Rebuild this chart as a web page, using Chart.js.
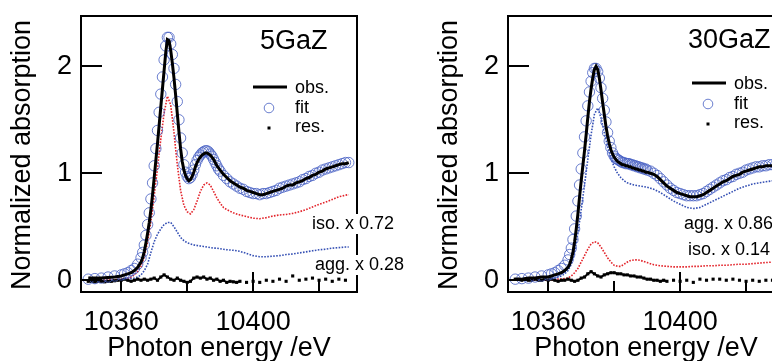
<!DOCTYPE html>
<html>
<head>
<meta charset="utf-8">
<script src="https://cdn.jsdelivr.net/npm/chart.js@4.4.1/dist/chart.umd.min.js"></script>
<style>
  html, body { margin: 0; padding: 0; background: #fff; overflow: hidden; }
  #wrap { position: relative; width: 772px; height: 361px; overflow: hidden; }
  .panel { position: absolute; top: 0; width: 427px; height: 361px; }
</style>
</head>
<body>
<div id="wrap">
  <div class="panel" style="left:0"><canvas id="c5" width="427" height="361"></canvas></div>
  <div class="panel" style="left:427px"><canvas id="c30" width="427" height="361"></canvas></div>
</div>
<script>
// photon energy grid of the measured spectrum (eV)
const gridE = [10350, 10352, 10354, 10356, 10358, 10360, 10361, 10362, 10363, 10364, 10365, 10366,
  10366.5, 10367, 10367.5, 10368, 10368.5, 10369, 10369.5, 10370, 10370.5, 10371,
  10371.5, 10372, 10372.5, 10373, 10373.5, 10374, 10374.5, 10375, 10375.5, 10376,
  10376.5, 10377, 10377.5, 10378, 10378.5, 10379, 10379.5, 10380, 10380.5, 10381,
  10381.5, 10382, 10382.5, 10383, 10383.5, 10384, 10384.5, 10385, 10385.5, 10386,
  10386.5, 10387, 10387.5, 10388, 10388.5, 10389, 10389.5, 10390,
  10391, 10392, 10393, 10394, 10395, 10396, 10397, 10398, 10399, 10400,
  10401, 10402, 10403, 10404, 10405, 10406, 10407, 10408, 10409, 10410,
  10411, 10412, 10413, 10414, 10415, 10416, 10417, 10418, 10419, 10420,
  10421, 10422, 10423, 10424, 10425, 10426, 10427, 10428, 10429];

// energies of the residual points
const resE = [10350, 10351, 10352, 10353, 10354, 10355, 10356, 10357, 10358, 10359,
  10360, 10361, 10362, 10363, 10364, 10365, 10366, 10367, 10368, 10369,
  10370, 10371, 10372, 10373, 10374, 10375, 10376, 10377, 10378, 10379,
  10380, 10381, 10382, 10383, 10384, 10385, 10386, 10387, 10388, 10389,
  10390, 10391, 10392, 10393, 10394, 10395, 10396,
  10398, 10400, 10402, 10404, 10406, 10408, 10410, 10412, 10414, 10416, 10418, 10420, 10422, 10424, 10426, 10428];

// energies of the iso / agg component curves
const compE = [10350, 10354, 10358, 10360,
  10362, 10363, 10364, 10365, 10366, 10367, 10368, 10369, 10370, 10371,
  10372, 10373, 10374, 10375, 10376, 10377, 10378, 10379, 10380, 10381,
  10382, 10383, 10384, 10385, 10386, 10387, 10388, 10389, 10390, 10391, 10392,
  10394, 10396, 10398, 10400, 10402, 10404, 10406, 10408, 10410, 10412, 10414, 10416, 10418,
  10420, 10422, 10424, 10426, 10428, 10429];

// ---- 5GaZ ----
const obs5 = [0.02, 0.02, 0.02, 0.025, 0.03, 0.04, 0.05, 0.06, 0.07, 0.09, 0.12, 0.17,
  0.21, 0.27, 0.35, 0.44, 0.54, 0.66, 0.80, 0.96, 1.12, 1.28,
  1.45, 1.62, 1.79, 1.96, 2.13, 2.25, 2.24, 2.15, 2.03, 1.89,
  1.73, 1.56, 1.39, 1.23, 1.11, 1.03, 0.98, 0.95, 0.93, 0.94,
  0.97, 1.01, 1.06, 1.10, 1.13, 1.15, 1.17, 1.18, 1.19, 1.19,
  1.18, 1.17, 1.15, 1.13, 1.10, 1.07, 1.05, 1.03,
  0.99, 0.96, 0.93, 0.91, 0.89, 0.87, 0.86, 0.84, 0.83, 0.82,
  0.81, 0.80, 0.80, 0.81, 0.82, 0.83, 0.84, 0.85, 0.86, 0.88,
  0.89, 0.89, 0.91, 0.92, 0.93, 0.95, 0.96, 0.98, 0.99, 1.01,
  1.02, 1.04, 1.05, 1.06, 1.07, 1.08, 1.09, 1.09, 1.10];
const fit5 = [0.01, 0.015, 0.02, 0.03, 0.04, 0.05, 0.06, 0.07, 0.09, 0.11, 0.15, 0.21,
  0.26, 0.33, 0.42, 0.52, 0.63, 0.76, 0.91, 1.07, 1.23, 1.40,
  1.57, 1.74, 1.90, 2.06, 2.19, 2.27, 2.27, 2.21, 2.11, 1.98,
  1.83, 1.67, 1.50, 1.33, 1.19, 1.08, 1.01, 0.97, 0.95, 0.96,
  0.99, 1.03, 1.08, 1.12, 1.15, 1.17, 1.19, 1.20, 1.21, 1.21,
  1.20, 1.18, 1.16, 1.13, 1.10, 1.07, 1.04, 1.02,
  0.98, 0.95, 0.92, 0.90, 0.88, 0.86, 0.85, 0.83, 0.82, 0.81,
  0.81, 0.80, 0.81, 0.81, 0.82, 0.83, 0.84, 0.86, 0.87, 0.88,
  0.89, 0.90, 0.91, 0.92, 0.94, 0.95, 0.97, 0.98, 1.00, 1.01,
  1.03, 1.04, 1.05, 1.06, 1.07, 1.08, 1.09, 1.10, 1.10];
const res5 = [-0.01, -0.01, -0.015, -0.01, -0.01, -0.015, -0.01, -0.01, -0.005, 0.0,
  0.0, 0.01, 0.0, -0.01, 0.0, 0.01, 0.0, 0.01, 0.0, 0.01,
  0.02, 0.0, 0.03, 0.05, 0.03, 0.01, 0.0, 0.02, 0.0, -0.01,
  -0.02, -0.01, 0.02, 0.03, 0.02, 0.03, 0.01, 0.02, 0.0, 0.01,
  -0.01, 0.0, -0.02, -0.01, -0.015, -0.02, -0.01,
  -0.02, -0.01, -0.02, 0.0, -0.01, 0.01, -0.01, 0.04, 0.0, 0.01, 0.02, 0.0, 0.01, -0.01, 0.01, 0.0];
const iso5 = [0, 0, 0.005, 0.01,
  0.02, 0.03, 0.05, 0.08, 0.13, 0.22, 0.36, 0.55, 0.79, 1.05,
  1.32, 1.56, 1.72, 1.64, 1.38, 1.08, 0.84, 0.70, 0.64, 0.62,
  0.66, 0.74, 0.83, 0.89, 0.91, 0.89, 0.83, 0.77, 0.72, 0.68, 0.66,
  0.63, 0.61, 0.595, 0.58, 0.575, 0.585, 0.60, 0.61, 0.615, 0.625, 0.64, 0.66, 0.685,
  0.71, 0.73, 0.755, 0.78, 0.795, 0.80];
const agg5 = [0, 0, 0, 0.005,
  0.01, 0.015, 0.02, 0.03, 0.05, 0.09, 0.15, 0.26, 0.36, 0.43,
  0.48, 0.52, 0.54, 0.54, 0.50, 0.45, 0.40, 0.37, 0.35, 0.34,
  0.33, 0.325, 0.32, 0.315, 0.31, 0.305, 0.30, 0.30, 0.295, 0.29, 0.285,
  0.28, 0.27, 0.25, 0.23, 0.22, 0.22, 0.225, 0.23, 0.24, 0.245, 0.255, 0.265, 0.275,
  0.285, 0.29, 0.30, 0.305, 0.31, 0.31];

// ---- 30GaZ ----
const obs30 = [0.01, 0.01, 0.02, 0.02, 0.03, 0.03, 0.04, 0.05, 0.06, 0.07, 0.09, 0.12,
  0.15, 0.20, 0.26, 0.36, 0.48, 0.62, 0.78, 0.93, 1.07, 1.21,
  1.36, 1.52, 1.67, 1.79, 1.89, 1.97, 2.00, 1.97, 1.89, 1.78,
  1.66, 1.55, 1.44, 1.35, 1.28, 1.22, 1.18, 1.15, 1.13, 1.11,
  1.10, 1.09, 1.08, 1.08, 1.07, 1.07, 1.06, 1.06, 1.05, 1.05,
  1.04, 1.04, 1.03, 1.03, 1.02, 1.02, 1.01, 1.01,
  1.00, 0.99, 0.97, 0.94, 0.91, 0.88, 0.86, 0.84, 0.82, 0.81,
  0.80, 0.79, 0.78, 0.78, 0.78, 0.79, 0.80, 0.82, 0.84, 0.86,
  0.88, 0.90, 0.92, 0.93, 0.95, 0.97, 0.98, 0.99, 1.01, 1.02,
  1.03, 1.04, 1.05, 1.06, 1.06, 1.07, 1.07, 1.07, 1.07];
const fit30 = [0.01, 0.015, 0.02, 0.03, 0.04, 0.05, 0.06, 0.07, 0.09, 0.11, 0.14, 0.19,
  0.24, 0.30, 0.38, 0.48, 0.60, 0.74, 0.89, 1.04, 1.19, 1.34,
  1.49, 1.63, 1.76, 1.86, 1.94, 1.98, 1.98, 1.95, 1.89, 1.80,
  1.70, 1.59, 1.48, 1.38, 1.30, 1.24, 1.19, 1.16, 1.14, 1.13,
  1.12, 1.11, 1.10, 1.10, 1.09, 1.09, 1.09, 1.08, 1.08, 1.07,
  1.07, 1.06, 1.06, 1.05, 1.05, 1.04, 1.04, 1.03,
  1.02, 1.00, 0.98, 0.95, 0.92, 0.89, 0.86, 0.84, 0.82, 0.81,
  0.80, 0.79, 0.79, 0.79, 0.79, 0.80, 0.81, 0.83, 0.85, 0.87,
  0.89, 0.91, 0.93, 0.94, 0.96, 0.97, 0.99, 1.00, 1.01, 1.03,
  1.04, 1.05, 1.06, 1.06, 1.07, 1.07, 1.08, 1.08, 1.08];
const res30 = [0.01, 0.01, 0.0, 0.01, 0.0, 0.0, 0.01, 0.0, 0.0, 0.01,
  0.0, 0.01, 0.0, -0.01, 0.0, 0.0, 0.01, 0.0, -0.01, 0.0,
  0.02, 0.03, 0.06, 0.08, 0.06, 0.04, 0.03, 0.05, 0.06, 0.07,
  0.07, 0.06, 0.06, 0.05, 0.05, 0.04, 0.04, 0.03, 0.03, 0.02,
  0.01, 0.01, 0.0, 0.0, -0.01, 0.0, -0.01,
  0.0, -0.01, 0.0, -0.02, 0.01, 0.0, 0.01, 0.01, 0.0, 0.01, 0.0, -0.01, 0.0, -0.01, 0.0, 0.0];
const agg30 = [0, 0, 0.005, 0.01,
  0.02, 0.03, 0.04, 0.06, 0.09, 0.15, 0.26, 0.44, 0.66, 0.89,
  1.13, 1.36, 1.55, 1.61, 1.52, 1.38, 1.25, 1.14, 1.06, 1.00,
  0.96, 0.93, 0.91, 0.90, 0.89, 0.885, 0.88, 0.875, 0.87, 0.86, 0.85,
  0.82, 0.78, 0.74, 0.71, 0.68, 0.67, 0.68, 0.71, 0.74, 0.77, 0.80, 0.83, 0.86,
  0.88, 0.90, 0.91, 0.92, 0.93, 0.93];
const iso30 = [0, 0, 0, 0,
  0.005, 0.01, 0.01, 0.015, 0.02, 0.04, 0.07, 0.11, 0.17, 0.23,
  0.29, 0.34, 0.36, 0.35, 0.31, 0.26, 0.21, 0.17, 0.14, 0.13,
  0.13, 0.15, 0.17, 0.185, 0.19, 0.19, 0.185, 0.175, 0.165, 0.155, 0.145,
  0.135, 0.13, 0.125, 0.125, 0.125, 0.13, 0.13, 0.135, 0.135, 0.14, 0.14, 0.145, 0.15,
  0.15, 0.155, 0.16, 0.165, 0.17, 0.17];

const xTicks = [10360, 10380, 10400, 10420];
const yTicks = [0, 1, 2];

const FONT = "'Liberation Sans', Arial, Helvetica, sans-serif";
const RED = '#e3242b';
const BLUE = '#3550b4';
const CIRCLE = 'rgba(70, 95, 195, 0.8)';

function pts(xs, ys) {
  return xs.map((x, i) => ({ x: x, y: ys[i] }));
}

// frame, inward ticks, axis titles, legend and component notes
const decorations = {
  id: 'decorations',
  afterDraw(chart, args, o) {
    const { ctx, chartArea: a, scales: { x, y } } = chart;
    ctx.save();
    ctx.strokeStyle = '#000';
    ctx.lineWidth = 2;
    ctx.strokeRect(a.left, a.top, a.right - a.left, a.bottom - a.top);

    ctx.beginPath();
    yTicks.forEach(v => {
      const py = Math.round(y.getPixelForValue(v));
      ctx.moveTo(a.left, py);
      ctx.lineTo(a.left + 21, py);
    });
    xTicks.forEach(v => {
      const px = Math.round(x.getPixelForValue(v));
      ctx.moveTo(px, a.bottom);
      ctx.lineTo(px, a.bottom - (v === 10400 ? 20 : 11));
    });
    ctx.stroke();

    ctx.fillStyle = '#000';
    ctx.font = '27px ' + FONT;
    ctx.textAlign = 'center';
    ctx.textBaseline = 'alphabetic';
    ctx.fillText('Photon energy /eV', (a.left + a.right) / 2, 356);
    ctx.save();
    ctx.translate(29.5, (a.top + a.bottom) / 2 + 1);
    ctx.rotate(-Math.PI / 2);
    ctx.fillText('Normalized absorption', 0, 0);
    ctx.restore();

    ctx.textAlign = 'left';
    ctx.fillText(o.name, o.nameX, o.nameY);

    // legend
    const lx = o.legendX, ly = o.legendY;
    ctx.lineWidth = 3;
    ctx.beginPath();
    ctx.moveTo(lx, ly);
    ctx.lineTo(lx + 34, ly);
    ctx.stroke();
    ctx.lineWidth = 1;
    ctx.strokeStyle = CIRCLE;
    ctx.beginPath();
    ctx.arc(lx + 16, ly + 21, 4.8, 0, Math.PI * 2);
    ctx.stroke();
    ctx.fillRect(lx + 14.5, ly + 39.5, 3, 3);
    ctx.font = '18px ' + FONT;
    ctx.fillText('obs.', lx + 42, ly + 6);
    ctx.fillText('fit', lx + 42, ly + 26);
    ctx.fillText('res.', lx + 42, ly + 45);

    // scale-factor notes, on white so they break the frame
    o.notes.forEach(n => {
      const w = ctx.measureText(n.text).width;
      ctx.fillStyle = '#fff';
      ctx.fillRect(n.x - 2, n.y - 15, w + 4, 20);
      ctx.fillStyle = '#000';
      ctx.fillText(n.text, n.x, n.y);
    });
    ctx.restore();
  }
};

function makeChart(id, d, deco) {
  return new Chart(document.getElementById(id), {
    type: 'line',
    data: {
      datasets: [
        { label: 'obs.', data: pts(gridE, d.obs), borderColor: '#000', borderWidth: 3, pointRadius: 0 },
        { label: 'fit', data: pts(gridE, d.fit), showLine: false, pointRadius: 5.2, pointBorderWidth: 1,
          pointBorderColor: CIRCLE, pointBackgroundColor: 'rgba(0,0,0,0)' },
        { label: 'res.', data: pts(resE, d.res), borderColor: '#000', borderWidth: 2,
          pointStyle: 'rect', pointBackgroundColor: '#000', pointBorderWidth: 0, pointRadius: 2.2,
          segment: { borderColor: c => (c.p0.parsed.x >= 10396 ? 'rgba(0,0,0,0)' : undefined) } },
        { label: 'iso', data: pts(compE, d.iso), borderColor: RED, borderWidth: 1.6, borderDash: [1.6, 1.4], pointRadius: 0 },
        { label: 'agg', data: pts(compE, d.agg), borderColor: BLUE, borderWidth: 1.6, borderDash: [1.6, 1.4], pointRadius: 0 }
      ]
    },
    options: {
      responsive: false,
      animation: false,
      devicePixelRatio: 1,
      layout: { padding: { left: 0, top: 16, right: 70, bottom: 0 } },
      plugins: { legend: { display: false }, tooltip: { enabled: false }, decorations: deco },
      scales: {
        x: {
          type: 'linear', min: 10347.8, max: 10431.5,
          grid: { display: false, drawTicks: false }, border: { display: false },
          afterBuildTicks: s => { s.ticks = xTicks.map(v => ({ value: v })); },
          afterFit: s => { s.height = 69; s.paddingLeft = 0; s.paddingRight = 0; },
          ticks: { color: '#000', padding: 14, maxRotation: 0, font: { family: FONT, size: 27 },
            callback: v => (v % 40 === 0 ? String(v) : '') }
        },
        y: {
          min: -0.11, max: 2.47,
          grid: { display: false, drawTicks: false }, border: { display: false },
          afterBuildTicks: s => { s.ticks = yTicks.map(v => ({ value: v })); },
          afterFit: s => { s.width = 81; s.paddingTop = 0; s.paddingBottom = 0; },
          ticks: { color: '#000', padding: 9, font: { family: FONT, size: 27 }, callback: v => String(v) }
        }
      }
    },
    plugins: [decorations]
  });
}

makeChart('c5', { obs: obs5, fit: fit5, res: res5, iso: iso5, agg: agg5 }, {
  name: '5GaZ', nameX: 260, nameY: 49, legendX: 253, legendY: 87,
  notes: [{ text: 'iso. x 0.72', x: 312, y: 229 }, { text: 'agg. x 0.28', x: 315, y: 270 }]
});
makeChart('c30', { obs: obs30, fit: fit30, res: res30, iso: iso30, agg: agg30 }, {
  name: '30GaZ', nameX: 261, nameY: 48, legendX: 265, legendY: 83,
  notes: [{ text: 'agg. x 0.86', x: 257, y: 229 }, { text: 'iso. x 0.14', x: 261, y: 255 }]
});
</script>
</body>
</html>
